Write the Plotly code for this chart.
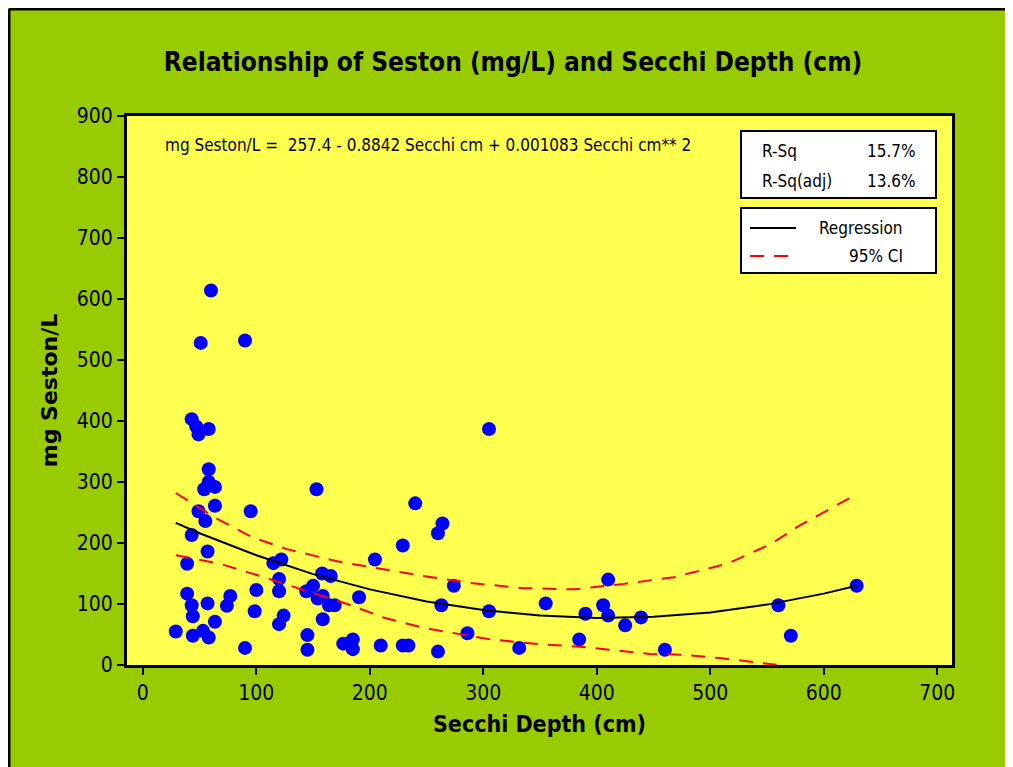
import plotly.graph_objects as go

# ---- data ----
secchi = [60, 51, 90, 43, 47, 49, 58, 58, 58, 54, 63.5, 63.5, 49, 95, 55, 153, 43, 57, 39, 115,
          122, 120, 120, 100, 158, 165.5, 144, 150, 158.5, 154, 164, 169, 39, 43, 44, 57, 77, 74, 98.5, 63.5,
          124, 120, 158.5, 29, 44, 53, 58, 90, 145, 145, 176.5, 185, 185, 305, 240, 264, 260, 229, 204.5, 274,
          190.5, 263, 305, 355, 410, 390, 405.6, 410, 425, 439, 286, 384.5, 209.6, 229, 234, 260, 331.6, 460, 629, 560,
          571]
seston = [614, 528, 532, 403, 391, 378, 387, 321, 300, 288, 292, 261, 252, 252, 236, 288, 213, 186, 166, 167,
          173, 141, 121, 123, 150, 146, 121, 130, 113, 109, 98, 98, 117, 98, 80, 101, 113, 97, 88, 71,
          81, 67, 75, 55, 48, 56, 45, 28, 49, 25, 35, 42, 26, 387, 265, 232, 216, 196, 173, 130,
          111, 98, 88, 101, 140, 84, 98, 81, 65, 78, 52, 42, 32, 32, 32, 22, 28, 25, 130, 98,
          48]

reg_x = [29, 50, 100, 150, 200, 250, 300, 350, 400, 450, 500, 550, 600, 629]
reg_y = [233, 216, 180, 149, 124, 104, 90, 81, 77, 79, 86, 99, 117, 130]

ciu_x = [29, 65, 97, 127, 171, 203, 247, 291, 335, 380, 424, 468, 515, 553, 579, 630]
ciu_y = [282, 240, 209, 190, 170, 160, 146, 134, 126, 124, 133, 144, 166, 198, 229, 281]

cil_x = [29, 68, 103, 141, 180, 212, 247, 306, 350, 385, 424, 447, 474, 510, 560]
cil_y = [180, 166, 146, 123, 100, 78, 61, 42, 34, 30, 23, 18, 17, 11, 0]

x_ticks = [0, 100, 200, 300, 400, 500, 600, 700]
y_ticks = [0, 100, 200, 300, 400, 500, 600, 700, 800, 900]

title = "Relationship of Seston (mg/L) and Secchi Depth (cm)"
x_title = "Secchi Depth (cm)"
y_title = "mg Seston/L"
equation = "mg Seston/L =  257.4 - 0.8842 Secchi cm + 0.001083 Secchi cm** 2"
stats = [("R-Sq", "15.7%"), ("R-Sq(adj)", "13.6%")]

FONT = "Liberation Sans Narrow, DejaVu Sans Condensed, Arial Narrow, sans-serif"
FONT_WIDE = "DejaVu Sans, Verdana, sans-serif"

OFF = 8  # browser body margin
W, H = 1013 - OFF, 767 - OFF
# plot area in page pixels
L, R, T, B = 127, 952, 116, 665


def px(x):
    return (x - L) / (R - L)


def py(y):
    return (B - y) / (B - T)


fig = go.Figure()
fig.add_trace(go.Scatter(x=secchi, y=seston, mode="markers",
                         marker=dict(color="#0000FF", size=14, line=dict(width=0)),
                         showlegend=False, hoverinfo="x+y"))
fig.add_trace(go.Scatter(x=reg_x, y=reg_y, mode="lines",
                         line=dict(color="black", width=2), showlegend=False))
fig.add_trace(go.Scatter(x=ciu_x, y=ciu_y, mode="lines",
                         line=dict(color="#FF0000", width=2, dash="14px,10px"), showlegend=False))
fig.add_trace(go.Scatter(x=cil_x, y=cil_y, mode="lines",
                         line=dict(color="#FF0000", width=2, dash="14px,10px"), showlegend=False))

shapes = [
    # outer frame (left and top edges)
    dict(type="line", xref="paper", yref="paper", x0=px(OFF + 1), x1=px(OFF + 1), y0=py(OFF + 1), y1=py(800),
         line=dict(color="black", width=3)),
    dict(type="line", xref="paper", yref="paper", x0=px(OFF + 1), x1=px(1020), y0=py(OFF + 1), y1=py(OFF + 1),
         line=dict(color="black", width=3)),
    # stats box
    dict(type="rect", xref="paper", yref="paper", x0=px(741), x1=px(936), y0=py(131), y1=py(198),
         line=dict(color="black", width=2), fillcolor="white"),
    # legend box
    dict(type="rect", xref="paper", yref="paper", x0=px(741), x1=px(936), y0=py(208), y1=py(273),
         line=dict(color="black", width=2), fillcolor="white"),
    dict(type="line", xref="paper", yref="paper", x0=px(750), x1=px(796), y0=py(228), y1=py(228),
         line=dict(color="black", width=2)),
    dict(type="line", xref="paper", yref="paper", x0=px(750), x1=px(796), y0=py(256), y1=py(256),
         line=dict(color="#FF0000", width=2, dash="14px,10px")),
]

ann = [
    dict(text=equation, x=px(163), y=py(145), xanchor="left", yanchor="middle",
         font=dict(size=17, color="black", family=FONT)),
    dict(text="Regression", x=px(905), y=py(228), xanchor="right", yanchor="middle",
         font=dict(size=17, color="black", family=FONT)),
    dict(text="95% CI", x=px(905), y=py(256), xanchor="right", yanchor="middle",
         font=dict(size=17, color="black", family=FONT)),
]
for i, (lab, val) in enumerate(stats):
    yy = [151, 181][i]
    ann.append(dict(text=lab, x=px(760), y=py(yy), xanchor="left", yanchor="middle",
                    font=dict(size=17, color="black", family=FONT)))
    ann.append(dict(text=val, x=px(918), y=py(yy), xanchor="right", yanchor="middle",
                    font=dict(size=17, color="black", family=FONT)))
for a in ann:
    a.update(xref="paper", yref="paper", showarrow=False)

fig.update_layout(
    width=W, height=H,
    margin=dict(l=L - OFF, r=W - (R - OFF), t=T - OFF, b=H - (B - OFF), pad=0),
    paper_bgcolor="#99CC00",
    plot_bgcolor="#FFFF50",
    title=dict(text="<b>" + title + "</b>", x=(513 - OFF) / W, xanchor="center",
               y=1 - (62 - OFF) / H, yanchor="middle",
               font=dict(size=26, color="black", family=FONT)),
    xaxis=dict(range=[-14, 713], tickvals=x_ticks, ticks="outside", ticklen=7, tickwidth=2,
               tickcolor="black", showgrid=False, zeroline=False, showline=True, linecolor="black",
               linewidth=3, mirror=True,
               tickfont=dict(size=21, color="black", family=FONT),
               title=dict(text="<b>" + x_title + "</b>", standoff=12,
                          font=dict(size=23, color="black", family=FONT))),
    yaxis=dict(range=[0, 900], tickvals=y_ticks, ticks="outside", ticklen=7, tickwidth=2,
               tickcolor="black", showgrid=False, zeroline=False, showline=True, linecolor="black",
               linewidth=3, mirror=True,
               tickfont=dict(size=21, color="black", family=FONT),
               title=dict(text="<b>" + y_title + "</b>", standoff=14,
                          font=dict(size=22, color="black", family=FONT_WIDE))),
    shapes=shapes,
    annotations=ann,
    showlegend=False,
)

fig.write_html("out.html")
